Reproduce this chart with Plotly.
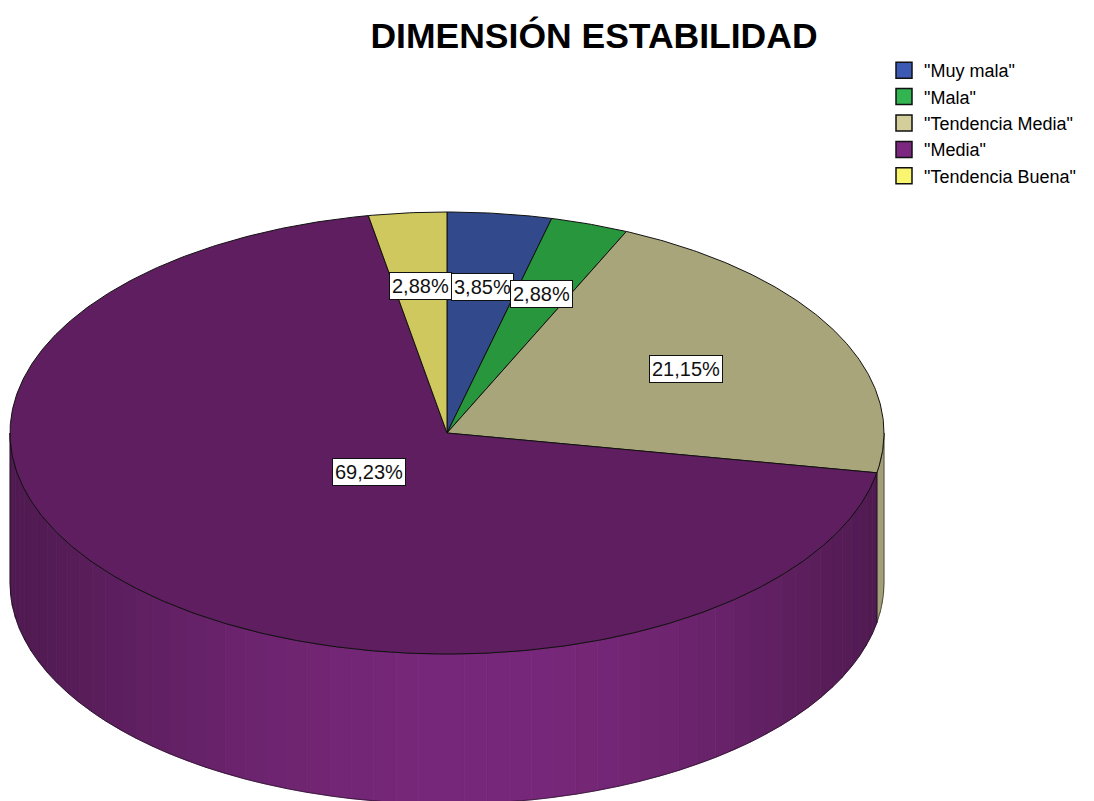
import numpy as np
import plotly.graph_objects as go

# ---------------- data ----------------
categories = ['"Muy mala"', '"Mala"', '"Tendencia Media"', '"Media"', '"Tendencia Buena"']
percentages = [3.85, 2.88, 21.15, 69.23, 2.88]
top_colors = ["#324a8c", "#28963c", "#a9a57b", "#5f1e5f", "#cec85f"]
legend_colors = ["#3c5ab4", "#32b450", "#d4ce9a", "#7c2880", "#faf56e"]
side_colors = [(60, 90, 180), (50, 180, 80), (245, 240, 182), (120, 40, 122), (250, 245, 110)]
title_text = "DIMENSIÓN ESTABILIDAD"

# ---------------- geometry / style ----------------
W, H = 1094, 801
CX, CY, RX, RY, DEPTH = 447, 433, 437, 221, 150
FONT = "Liberation Sans, Arial, sans-serif"


def pt(theta_deg, dy=0.0):
    t = np.radians(theta_deg)
    return CX + RX * np.sin(t), CY - RY * np.cos(t) + dy


def shade(theta_deg):
    u = np.sin(np.radians(theta_deg))
    w = 1.1 if u < 0.1 else 0.9
    return 0.66 + 0.34 * np.cos(np.pi / 2 * (u - 0.1) / w)


fig = go.Figure()

total = sum(percentages)
bounds = []
acc = 0.0
for p in percentages:
    a1 = acc / total * 360
    acc += p
    a2 = acc / total * 360
    bounds.append((a1, a2))

# side walls (front half visible: 90..270 deg)
for i, (a1, a2) in enumerate(bounds):
    s1, s2 = max(a1, 90), min(a2, 270)
    if s2 <= s1:
        continue
    n = max(1, int(np.ceil((s2 - s1) / 3.0)))
    edges = np.linspace(s1, s2, n + 1)
    for k in range(n):
        t1, t2 = edges[k], edges[k + 1]
        ts = np.linspace(t1, t2, 6)
        xs_top, ys_top = pt(ts)
        xs_bot, ys_bot = pt(ts[::-1], DEPTH)
        f = shade((t1 + t2) / 2)
        r, g, b = [int(min(255, c * f)) for c in side_colors[i]]
        col = f"rgb({r},{g},{b})"
        fig.add_trace(go.Scatter(
            x=list(xs_top) + list(xs_bot) + [xs_top[0]],
            y=list(ys_top) + list(ys_bot) + [ys_top[0]],
            mode="lines", fill="toself", fillcolor=col,
            line=dict(color=col, width=0.8),
            hoverinfo="skip", showlegend=False))
    # outline of the side
    ts = np.linspace(s1, s2, 80)
    xt, yt = pt(ts)
    xb, yb = pt(ts[::-1], DEPTH)
    fig.add_trace(go.Scatter(
        x=list(xt) + list(xb) + [xt[0]],
        y=list(yt) + list(yb) + [yt[0]],
        mode="lines", line=dict(color="rgba(0,0,0,0.5)", width=1),
        hoverinfo="skip", showlegend=False))

# top face slices
for i, (a1, a2) in enumerate(bounds):
    ts = np.linspace(a1, a2, max(4, int((a2 - a1) * 2)))
    xs, ys = pt(ts)
    fig.add_trace(go.Scatter(
        x=[CX] + list(xs) + [CX],
        y=[CY] + list(ys) + [CY],
        mode="lines", fill="toself", fillcolor=top_colors[i],
        line=dict(color="#111111", width=1),
        name=categories[i], hoverinfo="name", showlegend=False))

# legend entries
for i, c in enumerate(categories):
    fig.add_trace(go.Scatter(
        x=[None], y=[None], mode="markers", name=c,
        legendgroup=f"g{i}",
        marker=dict(symbol="square", size=16, color=legend_colors[i],
                    line=dict(color="#111111", width=1.5))))

# percentage labels at slice centroids
for i, (a1, a2) in enumerate(bounds):
    alpha = np.radians(a2 - a1)
    frac = 4 * np.sin(alpha / 2) / (3 * alpha)
    mid = (a1 + a2) / 2
    t = np.radians(mid)
    lx = CX + RX * frac * np.sin(t)
    ly = CY - RY * frac * np.cos(t)
    txt = f"{percentages[i]:.2f}%".replace(".", ",")
    fig.add_annotation(x=lx, y=ly, xref="x", yref="y", text=txt, showarrow=False,
                       font=dict(family=FONT, size=20, color="#111111"),
                       bgcolor="white", bordercolor="#111111", borderwidth=1, borderpad=2)

fig.update_layout(
    width=W, height=H,
    margin=dict(l=0, r=0, t=0, b=0),
    paper_bgcolor="white", plot_bgcolor="white",
    title=dict(text=f"<b>{title_text}</b>", x=594 / W, xanchor="center",
               y=1 - 36 / H, yanchor="middle",
               font=dict(family=FONT, size=35.5, color="black")),
    xaxis=dict(range=[0, W], visible=False, fixedrange=True),
    yaxis=dict(range=[H, 0], visible=False, fixedrange=True),
    legend=dict(x=884 / W, y=1 - 52 / H, xanchor="left", yanchor="top",
                font=dict(family=FONT, size=18, color="black"),
                traceorder="grouped", tracegroupgap=0,
                bgcolor="rgba(0,0,0,0)", itemwidth=30),
    showlegend=True,
)

fig.write_html("out.html", post_script="document.body.style.margin='0';",
               config={"displayModeBar": False})
